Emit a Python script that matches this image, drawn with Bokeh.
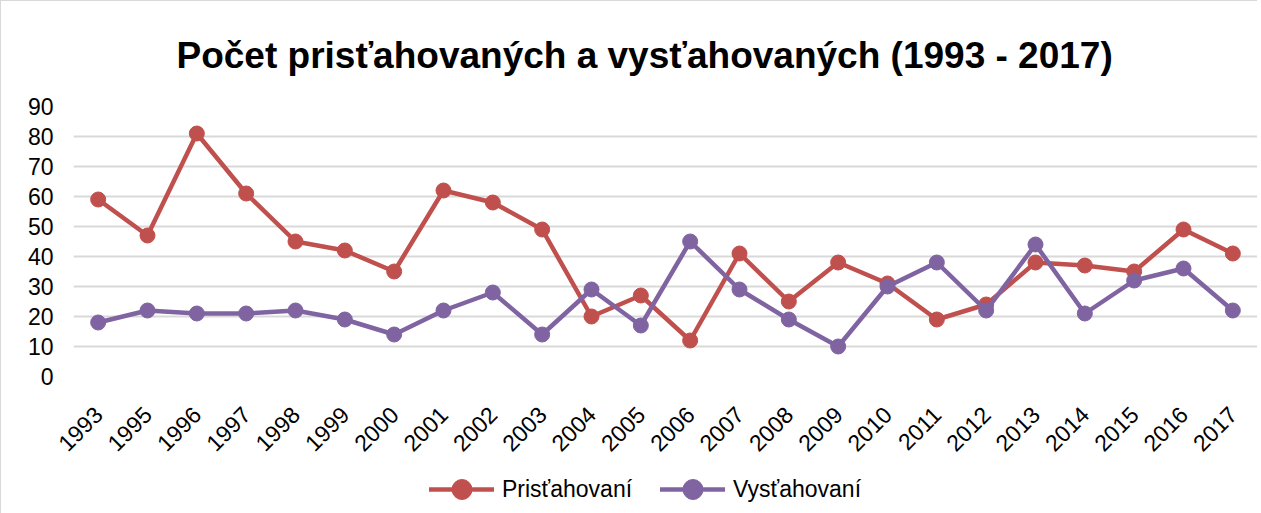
import math
from bokeh.plotting import figure
from bokeh.layouts import column
from bokeh.models import FactorRange, Range1d, FixedTicker, Legend, LegendItem
from bokeh.embed import file_html
from bokeh.resources import INLINE

years = ["1993", "1995", "1996", "1997", "1998", "1999", "2000", "2001", "2002",
         "2003", "2004", "2005", "2006", "2007", "2008", "2009", "2010", "2011",
         "2012", "2013", "2014", "2015", "2016", "2017"]
pristahovani = [59, 47, 81, 61, 45, 42, 35, 62, 58, 49, 20, 27, 12, 41, 25, 38,
                31, 19, 24, 38, 37, 35, 49, 41]
vystahovani = [18, 22, 21, 21, 22, 19, 14, 22, 28, 14, 29, 17, 45, 29, 19, 10,
               30, 38, 22, 44, 21, 32, 36, 22]
y_ticks = [0, 10, 20, 30, 40, 50, 60, 70, 80, 90]
series_names = ["Prisťahovaní", "Vysťahovaní"]

RED = "#C0504D"
PURPLE = "#8064A2"
FONT = "Liberation Sans"

p = figure(width=1256, height=460,
           x_range=FactorRange(factors=years, range_padding=0),
           y_range=Range1d(0, 90),
           output_backend="svg", toolbar_location=None,
           min_border_left=72, min_border_right=0,
           min_border_top=105, min_border_bottom=81)

p.title.text = "Počet prisťahovaných a vysťahovaných (1993 - 2017)"
p.title.align = "left"
p.title.offset = 103
p.title.text_font = FONT
p.title.text_font_size = "37px"
p.title.text_font_style = "bold"
p.title.text_color = "#000000"
p.title.standoff = 62

p.outline_line_color = None
p.background_fill_color = "white"
p.border_fill_color = "white"

p.xgrid.grid_line_color = None
p.ygrid.grid_line_color = "#d9d9d9"
p.ygrid.grid_line_width = 2
p.yaxis.ticker = FixedTicker(ticks=y_ticks)

for ax in (p.xaxis[0], p.yaxis[0]):
    ax.axis_line_color = None
    ax.major_tick_line_color = None
    ax.minor_tick_line_color = None
    ax.major_label_text_font = FONT
    ax.major_label_text_font_size = "23px"
    ax.major_label_text_color = "#000000"

p.yaxis.major_label_standoff = 14
p.xaxis.major_label_orientation = math.pi / 4
p.xaxis.major_label_standoff = 28

p.line(years, pristahovani, line_color=RED, line_width=4.5,
       line_join="round", line_cap="round")
p.scatter(years, pristahovani, size=15, fill_color=RED, line_color=RED)
p.line(years, vystahovani, line_color=PURPLE, line_width=4.5,
       line_join="round", line_cap="round")
p.scatter(years, vystahovani, size=15, fill_color=PURPLE, line_color=PURPLE)

# legend strip below the chart (its frame is aligned with the chart's frame)
p2 = figure(width=1256, height=53, x_range=Range1d(0, 1), y_range=Range1d(0, 1),
            output_backend="svg", toolbar_location=None,
            x_axis_type=None, y_axis_type=None, min_border=0)
p2.grid.visible = False
p2.outline_line_color = None
items = []
for name, col in zip(series_names, [RED, PURPLE]):
    # proxy renderers for the legend; their single point lies outside the view
    lr = p2.line(x=[0, 1], y=[-5, -5], line_color=col, line_width=4.5, line_cap="round")
    sr = p2.scatter(x=[0], y=[-5], fill_color=col, line_color=col)
    items.append(LegendItem(label=name, renderers=[lr, sr]))

legend = Legend(items=items, orientation="horizontal", location=(356, 0),
                border_line_color=None, background_fill_alpha=0,
                glyph_width=65, glyph_height=50, label_standoff=8, spacing=28,
                padding=0, margin=0,
                label_text_font=FONT, label_text_font_size="23px",
                label_text_color="#000000")
p2.add_layout(legend)

layout = column(p, p2, spacing=0,
                styles={"border-left": "1px solid #d9d9d9", "border-top": "1px solid #d9d9d9"})

open("out.html", "w").write(file_html(layout, INLINE))
